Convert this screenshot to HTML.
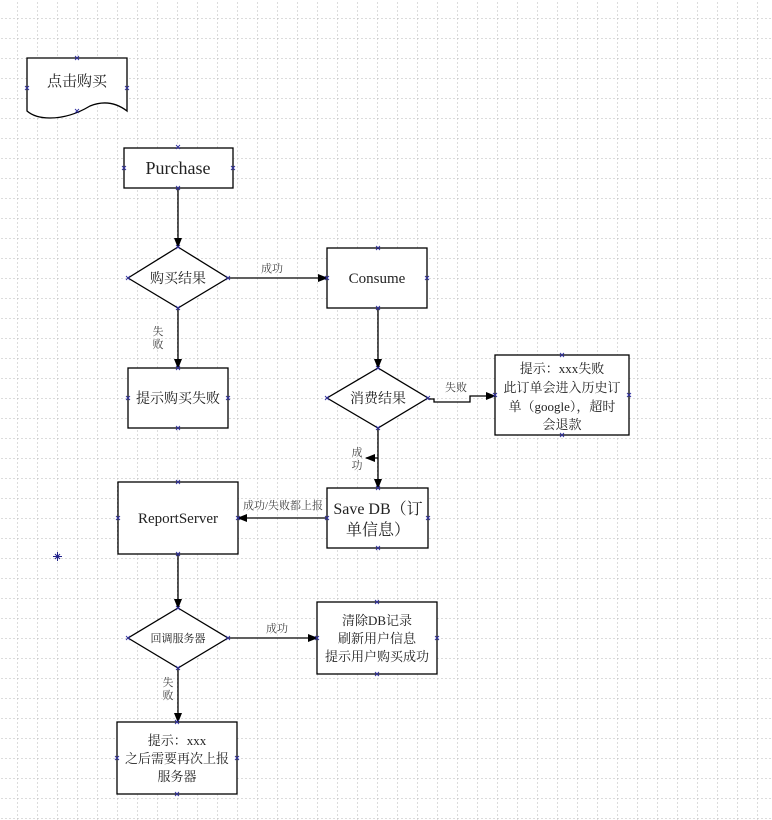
<!DOCTYPE html>
<html><head><meta charset="utf-8"><style>
html,body{margin:0;padding:0;background:#fff;}
svg{display:block;}
text{font-family:"Liberation Serif","Noto Serif CJK SC",serif;fill:#222;}
.l{font-size:11px;fill:#444;}
</style></head><body>
<svg width="772" height="820" viewBox="0 0 772 820" xmlns="http://www.w3.org/2000/svg">
<defs>
<pattern id="g" x="17" y="18" width="20" height="20" patternUnits="userSpaceOnUse">
<path d="M0 0H20M0 0V20" stroke="#b8b8b8" stroke-width="1" stroke-dasharray="2,2" fill="none"/>
</pattern>
<marker id="a" markerWidth="10" markerHeight="10" refX="9" refY="5" orient="auto" markerUnits="userSpaceOnUse">
<path d="M0 1L10 5L0 9Z" fill="#000"/></marker>
</defs>
<rect width="772" height="820" fill="url(#g)"/>
<g stroke="#000" stroke-width="1.3" fill="#fff">
<path d="M27 58H127V111Q110 98 90 106Q70 118 50 118Q35 118 27 111Z"/>
<rect x="124" y="148" width="109" height="40"/>
<polygon points="178,247 228,278 178,308 128,278"/>
<rect x="327" y="248" width="100" height="60"/>
<rect x="128" y="368" width="100" height="60"/>
<polygon points="378,368 428,398 378,428 327,398"/>
<rect x="495" y="355" width="134" height="80"/>
<rect x="327" y="488" width="101" height="60"/>
<rect x="118" y="482" width="120" height="72"/>
<polygon points="178,608 228,638 178,668 128,638"/>
<rect x="317" y="602" width="120" height="72"/>
<rect x="117" y="722" width="120" height="72"/>
</g>
<g stroke="#000" stroke-width="1.3" fill="none" marker-end="url(#a)">
<path d="M178 188V247"/>
<path d="M228 278H327"/>
<path d="M178 308V368"/>
<path d="M378 308V368"/>
<path d="M428 399H434V402H470V396H495"/>
<path d="M378 428V488"/>
<path d="M378 458H366"/>
<path d="M327 518H238"/>
<path d="M178 554V608"/>
<path d="M228 638H317"/>
<path d="M178 668V722"/>
</g>
<g stroke="#22228a" stroke-width="1">
<path d="M55 554l5 5m0-5l-5 5M57.5 552v9M53 556.5h9" />
</g>
<g stroke="#3030a0" stroke-width="0.9" id="x">
<path d="M75 56l4 4m0-4l-4 4M25 86l4 4m0-4l-4 4M125 86l4 4m0-4l-4 4M75 109l4 4m0-4l-4 4"/>
<path d="M176 145l4 4m0-4l-4 4M122 166l4 4m0-4l-4 4M231 166l4 4m0-4l-4 4M176 186l4 4m0-4l-4 4"/>
<path d="M176 245l4 4m0-4l-4 4M126 276l4 4m0-4l-4 4M226 276l4 4m0-4l-4 4M176 306l4 4m0-4l-4 4"/>
<path d="M376 246l4 4m0-4l-4 4M325 276l4 4m0-4l-4 4M425 276l4 4m0-4l-4 4M376 306l4 4m0-4l-4 4"/>
<path d="M176 366l4 4m0-4l-4 4M126 396l4 4m0-4l-4 4M226 396l4 4m0-4l-4 4M176 426l4 4m0-4l-4 4"/>
<path d="M376 366l4 4m0-4l-4 4M325 396l4 4m0-4l-4 4M426 396l4 4m0-4l-4 4M376 426l4 4m0-4l-4 4"/>
<path d="M560 353l4 4m0-4l-4 4M493 393l4 4m0-4l-4 4M627 393l4 4m0-4l-4 4M560 433l4 4m0-4l-4 4"/>
<path d="M376 486l4 4m0-4l-4 4M325 516l4 4m0-4l-4 4M426 516l4 4m0-4l-4 4M376 546l4 4m0-4l-4 4"/>
<path d="M176 480l4 4m0-4l-4 4M116 516l4 4m0-4l-4 4M236 516l4 4m0-4l-4 4M176 552l4 4m0-4l-4 4"/>
<path d="M176 606l4 4m0-4l-4 4M126 636l4 4m0-4l-4 4M226 636l4 4m0-4l-4 4M176 666l4 4m0-4l-4 4"/>
<path d="M375 600l4 4m0-4l-4 4M315 636l4 4m0-4l-4 4M435 636l4 4m0-4l-4 4M375 672l4 4m0-4l-4 4"/>
<path d="M175 720l4 4m0-4l-4 4M115 756l4 4m0-4l-4 4M235 756l4 4m0-4l-4 4M175 792l4 4m0-4l-4 4"/>
</g>
<g text-anchor="middle">
<text x="77" y="86" font-size="15">点击购买</text>
<text x="178" y="174" font-size="18">Purchase</text>
<text x="178" y="283" font-size="14">购买结果</text>
<text x="377" y="283" font-size="15">Consume</text>
<text x="178" y="403" font-size="14">提示购买失败</text>
<text x="378" y="403" font-size="14">消费结果</text>
<text x="562" y="373" font-size="13">提示：xxx失败</text>
<text x="562" y="392" font-size="13">此订单会进入历史订</text>
<text x="562" y="411" font-size="13">单（google），超时</text>
<text x="562" y="429" font-size="13">会退款</text>
<text x="378" y="514" font-size="16">Save DB（订</text>
<text x="378" y="535" font-size="16">单信息）</text>
<text x="178" y="523" font-size="15">ReportServer</text>
<text x="178" y="642" font-size="11">回调服务器</text>
<text x="377" y="625" font-size="13">清除DB记录</text>
<text x="377" y="643" font-size="13">刷新用户信息</text>
<text x="377" y="661" font-size="13">提示用户购买成功</text>
<text x="177" y="745" font-size="13">提示：xxx</text>
<text x="177" y="763" font-size="13">之后需要再次上报</text>
<text x="177" y="781" font-size="13">服务器</text>
<text class="l" x="272" y="272">成功</text>
<text class="l" x="158" y="335">失</text>
<text class="l" x="158" y="348">败</text>
<text class="l" x="456" y="391">失败</text>
<text class="l" x="357" y="456">成</text>
<text class="l" x="357" y="469">功</text>
<text class="l" x="283" y="509">成功/失败都上报</text>
<text class="l" x="277" y="632">成功</text>
<text class="l" x="168" y="686">失</text>
<text class="l" x="168" y="699">败</text>
</g>
</svg>
</body></html>
